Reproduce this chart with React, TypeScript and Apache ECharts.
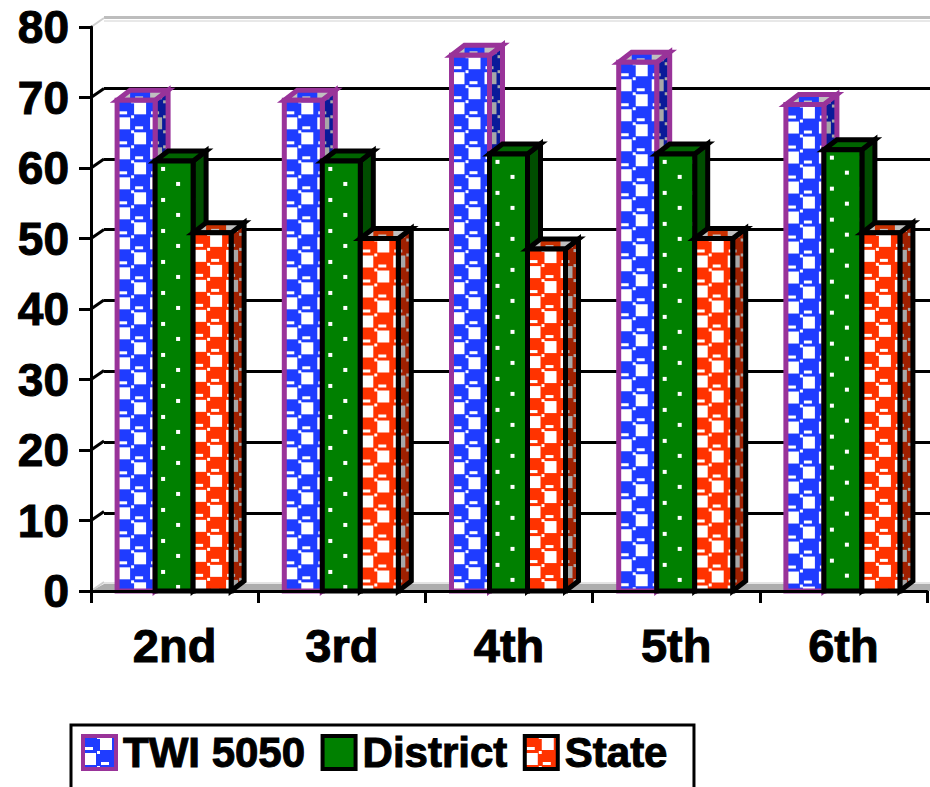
import React, { useEffect, useRef } from "react";
import * as echarts from "echarts";

const categories = ["2nd", "3rd", "4th", "5th", "6th"];
const twi5050 = [69.6, 69.6, 76, 75, 69];
const district = [61, 61, 62, 62, 62.6];
const stateValues = [50.8, 50, 48.5, 50, 50.8];
const yTicks = [0, 10, 20, 30, 40, 50, 60, 70, 80];

const DX = 13;
const DY = 10;
const BAR_W = 38;

function tile(w: number, h: number, draw: (c: CanvasRenderingContext2D) => void) {
  const cv = document.createElement("canvas");
  cv.width = w;
  cv.height = h;
  draw(cv.getContext("2d") as CanvasRenderingContext2D);
  return { image: cv, repeat: "repeat" as const };
}

function checker(bg: string, fg: string) {
  return tile(32, 30, (c) => {
    c.fillStyle = bg;
    c.fillRect(0, 0, 32, 30);
    c.fillStyle = fg;
    c.fillRect(17, 2, 12, 12);
    c.fillRect(1, 17, 12, 12);
    c.fillRect(2, 11, 8, 3);
    c.fillRect(18, 26, 8, 3);
    c.fillRect(14, 15, 3, 3);
    c.fillRect(14, 0, 3, 3);
  });
}

function dots(bg: string, fg: string) {
  return tile(30, 31, (c) => {
    c.fillStyle = bg;
    c.fillRect(0, 0, 30, 31);
    c.fillStyle = fg;
    c.fillRect(6, 6, 4, 4);
    c.fillRect(21, 21, 4, 4);
  });
}

function barSeries(
  name: string,
  values: number[],
  index: number,
  stroke: string,
  front: any,
  top: any,
  side: any
) {
  return {
    type: "custom",
    name,
    data: values.map((v, i) => [i, v]),
    xAxisIndex: 0,
    yAxisIndex: 0,
    z: 5 + index,
    itemStyle: { color: front, borderColor: stroke, borderWidth: 3 },
    encode: { x: 0, y: 1 },
    renderItem: (_p: any, api: any) => {
      const c = api.coord([api.value(0), api.value(1)]);
      const base = api.coord([api.value(0), 0]);
      const left = c[0] + (index - 1.5) * BAR_W - 0.5;
      const h = base[1] - c[1];
      const lineStyle = { stroke, lineWidth: 5, lineJoin: "miter" };
      return {
        type: "group",
        x: left,
        y: c[1],
        children: [
          {
            type: "polygon",
            shape: { points: [[BAR_W, 0], [BAR_W + DX, -DY], [BAR_W + DX, h - DY], [BAR_W, h]] },
            style: { fill: side, ...lineStyle },
          },
          {
            type: "polygon",
            shape: { points: [[0, 0], [DX, -DY], [BAR_W + DX, -DY], [BAR_W, 0]] },
            style: { fill: top, ...lineStyle },
          },
          {
            type: "rect",
            shape: { x: 0, y: 0, width: BAR_W, height: h },
            style: { fill: front, ...lineStyle },
          },
        ],
      };
    },
  };
}

export default function App() {
  const ref = useRef<HTMLDivElement>(null);
  useEffect(() => {
    document.body.style.margin = "0";
    const chart = echarts.init(ref.current as HTMLDivElement, undefined, { renderer: "svg" });

    const blue = checker("#1f3cff", "#ffffff");
    const red = checker("#ff3300", "#ffffff");
    const green = dots("#008000", "#ffffff");
    const font = {
      fontFamily: "Liberation Sans, Arial, sans-serif",
      fontWeight: "bold" as const,
      color: "#000",
      textBorderColor: "#000",
      textBorderWidth: 1,
    };

    const backColors = yTicks.map((v) => (v === 0 ? "#d8d8d8" : v === 80 ? "#bdbdbd" : "#000000"));

    const wall = {
      type: "custom",
      name: "wall",
      data: yTicks.map((v) => [0, v]),
      xAxisIndex: 0,
      yAxisIndex: 0,
      z: 1,
      silent: true,
      encode: { x: 0, y: 1 },
      renderItem: (p: any, api: any) => {
        const cs = p.coordSys;
        const v = api.value(1);
        const y = api.coord([0, v])[1];
        const x = cs.x;
        const r = cs.x + cs.width + 10;
        const light = v === 0 || v === 80;
        const children: any[] = [
          {
            type: "line",
            shape: { x1: x, y1: y, x2: x + DX, y2: y - DY + 1 },
            style: { stroke: light ? "#cfcfcf" : "#000", lineWidth: light ? 2 : 3 },
          },
        ];
        if (v === 0) {
          children.unshift({
            type: "polygon",
            shape: { points: [[x, y], [x + DX, y - 7], [r, y - 7], [r, y]] },
            style: { fill: "#adadad" },
          });
          children.push({
            type: "line",
            shape: { x1: x + DX, y1: y - 8, x2: r, y2: y - 8 },
            style: { stroke: "#e4e4e4", lineWidth: 2 },
          });
        }
        if (v === 80) {
          children.push({
            type: "line",
            shape: { x1: x + DX, y1: y - 6, x2: r, y2: y - 6 },
            style: { stroke: "#e0e0e0", lineWidth: 1.5 },
          });
        }
        return { type: "group", children };
      },
    };

    chart.setOption({
      animation: false,
      backgroundColor: "#ffffff",
      grid: [
        { left: 91, top: 27, width: 836, height: 564, containLabel: false },
        { left: 104, top: 17, width: 840, height: 567, containLabel: false },
      ],
      xAxis: [
        {
          type: "category",
          gridIndex: 0,
          data: categories,
          z: 8,
          axisLine: { show: true, lineStyle: { color: "#000", width: 3 } },
          axisTick: { show: true, length: 12, alignWithLabel: false, lineStyle: { color: "#000", width: 3 } },
          axisLabel: { ...font, fontSize: 47, margin: 31, interval: 0 },
          splitLine: { show: false },
        },
        { type: "category", gridIndex: 1, data: categories, show: false },
      ],
      yAxis: [
        {
          type: "value",
          gridIndex: 0,
          min: 0,
          max: 80,
          interval: 10,
          z: 8,
          axisLine: { show: true, lineStyle: { color: "#000", width: 3 } },
          axisTick: { show: true, length: 12, lineStyle: { color: "#000", width: 3 } },
          axisLabel: { ...font, fontSize: 46, margin: 22 },
          splitLine: { show: false },
        },
        {
          type: "value",
          gridIndex: 1,
          min: 0,
          max: 80,
          interval: 10,
          axisLine: { show: false },
          axisTick: { show: false },
          axisLabel: { show: false },
          splitLine: { show: true, lineStyle: { color: backColors, width: 3 } },
        },
      ],
      legend: {
        show: true,
        left: 71,
        top: 725,
        orient: "horizontal",
        data: [
          { name: "TWI 5050", icon: "rect", itemStyle: { color: blue, borderColor: "#993399", borderWidth: 4 } },
          { name: "District", icon: "rect", itemStyle: { color: "#008000", borderColor: "#000", borderWidth: 4 } },
          { name: "State", icon: "rect", itemStyle: { color: red, borderColor: "#000", borderWidth: 4 } },
        ],
        itemWidth: 33,
        itemHeight: 33,
        itemGap: 15,
        padding: [6, 26, 40, 10],
        borderColor: "#000",
        borderWidth: 3,
        textStyle: { ...font, fontSize: 42, padding: [0, 0, 0, 2] },
        selectedMode: false,
      },
      series: [
        wall,
        barSeries("TWI 5050", twi5050, 0, "#993399", blue, checker("#1f3cff", "#c0c0c0"), checker("#0a1a99", "#a8a8a8")),
        barSeries("District", district, 1, "#000000", green, "#006400", dots("#004d00", "#a8a8a8")),
        barSeries("State", stateValues, 2, "#000000", red, checker("#c83000", "#c0c0c0"), checker("#a02000", "#a8a8a8")),
      ],
    });
    return () => chart.dispose();
  }, []);
  return (
    <div
      ref={ref}
      style={{ position: "absolute", left: 0, top: 0, width: 930, height: 787, overflow: "hidden" }}
    />
  );
}
